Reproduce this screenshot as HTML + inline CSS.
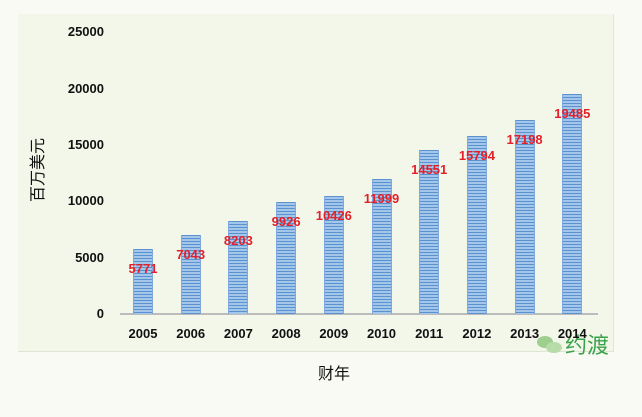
<!DOCTYPE html>
<html><head><meta charset="utf-8"><style>
body{margin:0;width:642px;height:417px;background:#f8faf3;position:relative;overflow:hidden;font-family:"Liberation Sans","Noto Sans CJK SC",sans-serif}
.panel{position:absolute;left:18px;top:14px;width:595px;height:337px;background:#f3f7ea;border-right:1px solid #dfe5d5;border-bottom:1px solid #dfe5d5}
.yl{position:absolute;left:60px;width:44px;text-align:right;font-size:13px;font-weight:bold;color:#111}
.xl{position:absolute;top:326px;width:50px;text-align:center;font-size:13px;font-weight:bold;color:#111}
.bar{position:absolute;width:20px;background:repeating-linear-gradient(to bottom,#5a92d0 0,#5a92d0 1px,#a5c6eb 1px,#a5c6eb 3px);border-left:1px solid #7fa9dc;border-right:1px solid #7fa9dc;box-sizing:border-box}
.vl{position:absolute;width:60px;text-align:center;font-size:13px;font-weight:bold;color:#e3202a}
</style></head><body>
<div class="panel"></div>
<div class="yl" style="top:24px">25000</div>
<div class="yl" style="top:81px">20000</div>
<div class="yl" style="top:137px">15000</div>
<div class="yl" style="top:193px">10000</div>
<div class="yl" style="top:250px">5000</div>
<div class="yl" style="top:306px">0</div>
<div style="position:absolute;left:120px;top:313px;width:478px;height:2px;background:#bcbcbc"></div>
<div style="position:absolute;left:-4px;top:158px;width:80px;text-align:center;font-size:16px;transform:rotate(-90deg);color:#111">百万美元</div>
<div style="position:absolute;left:318px;top:360px;font-size:16px;color:#111">财年</div>
<div style="position:absolute;left:565px;top:328px;font-size:22px;color:#3aa24a">约渡</div>
<div style="position:absolute;left:537px;top:336px;width:16px;height:12px;border-radius:50%;background:#9fcf8f"></div>
<div style="position:absolute;left:546px;top:342px;width:16px;height:11px;border-radius:50%;background:#b7dca9"></div>
<div id="c"></div>
<script>
var v=[5771,7043,8203,9926,10426,11999,14551,15794,17198,19485],h='';
for(var i=0;i<10;i++){var cx=143+i*47.7,t=314-v[i]*0.01128;
h+='<div class="bar" style="left:'+(cx-10)+'px;top:'+t+'px;height:'+(314-t)+'px"></div>';
h+='<div class="vl" style="left:'+(cx-30)+'px;top:'+(t+12)+'px">'+v[i]+'</div>';
h+='<div class="xl" style="left:'+(cx-25)+'px">'+(2005+i)+'</div>';}
document.getElementById('c').innerHTML=h;
</script>
</body></html>
